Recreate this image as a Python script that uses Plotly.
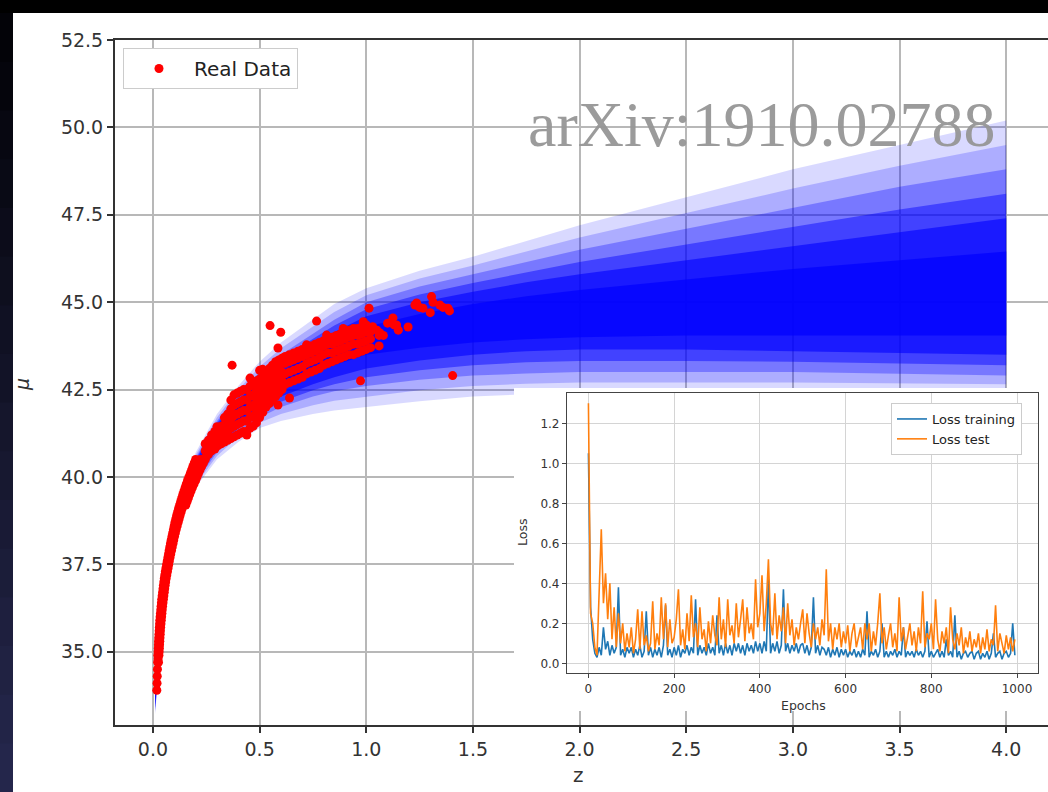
import plotly.graph_objects as go

# ------------------------------------------------------------------ data
# observed supernova points (redshift z, distance modulus mu), read off the picture
z_obs = [
    # steep low-z part (rows of equal mu)
    0.018, 0.019, 0.020, 0.021, 0.022, 0.026, 0.023, 0.028, 0.025, 0.030,
    0.026, 0.032, 0.028, 0.034, 0.030, 0.036, 0.032, 0.039, 0.035, 0.042,
    0.038, 0.045, 0.041, 0.049, 0.045, 0.053, 0.049, 0.057, 0.053, 0.062,
    0.058, 0.068, 0.064, 0.074, 0.070, 0.080, 0.076, 0.087, 0.082, 0.094,
    0.089, 0.101, 0.096, 0.109, 0.103, 0.118, 0.111, 0.127, 0.120, 0.137,
    0.130, 0.148, 0.160, 0.140, 0.158, 0.172, 0.151, 0.168, 0.185,
    0.162, 0.180, 0.200, 0.175, 0.193, 0.213, 0.187, 0.207, 0.228,
    0.200, 0.222, 0.245,
    0.024, 0.024, 0.029, 0.0255, 0.031, 0.027, 0.033, 0.029, 0.035,
    0.031, 0.0375, 0.0335, 0.0405, 0.0365, 0.0435, 0.0395, 0.047,
    0.043, 0.051, 0.047, 0.055, 0.051, 0.0595, 0.0555, 0.065,
    0.061, 0.071, 0.067, 0.077, 0.073, 0.0835, 0.079, 0.0905,
    0.0855, 0.0975, 0.0925, 0.105, 0.0995, 0.1135, 0.107, 0.1225,
    0.1155, 0.132, 0.125, 0.1425, 0.154, 0.135, 0.153, 0.166,
    0.1455, 0.163, 0.1785, 0.1565, 0.174, 0.1925, 0.1685, 0.1865, 0.2065,
    0.181, 0.200, 0.2205, 0.1935, 0.2145, 0.2365,
    # flatter part (columns of equal z)
    0.26, 0.26, 0.26, 0.29, 0.29, 0.29, 0.32, 0.32, 0.32,
    0.35, 0.35, 0.35, 0.35,
    0.38, 0.38, 0.38, 0.38, 0.38,
    0.41, 0.41, 0.41, 0.41, 0.41,
    0.44, 0.44, 0.44, 0.44, 0.44,
    0.47, 0.47, 0.47, 0.47, 0.47,
    0.50, 0.50, 0.50, 0.50, 0.50, 0.50,
    0.53, 0.53, 0.53, 0.53, 0.53,
    0.56, 0.56, 0.56, 0.56, 0.56,
    0.59, 0.59, 0.59, 0.59, 0.59,
    0.62, 0.62, 0.62, 0.62, 0.66, 0.66, 0.66, 0.66,
    0.70, 0.70, 0.70, 0.70, 0.74, 0.74, 0.74, 0.74,
    0.78, 0.78, 0.78, 0.78, 0.82, 0.82, 0.82, 0.82,
    0.86, 0.86, 0.86, 0.86, 0.90, 0.90, 0.90, 0.90,
    0.94, 0.94, 0.94, 0.94, 0.98, 0.98, 0.98, 0.98,
    1.02, 1.02, 1.02, 1.06, 1.06,
    0.245, 0.245, 0.245, 0.275, 0.275, 0.275, 0.305, 0.305, 0.305,
    0.335, 0.335, 0.335, 0.335,
    0.365, 0.365, 0.365, 0.365, 0.365,
    0.395, 0.395, 0.395, 0.395, 0.395,
    0.425, 0.425, 0.425, 0.425, 0.425,
    0.455, 0.455, 0.455, 0.455, 0.455,
    0.485, 0.485, 0.485, 0.485, 0.485,
    0.515, 0.515, 0.515, 0.515, 0.515,
    0.545, 0.545, 0.545, 0.545, 0.545,
    0.575, 0.575, 0.575, 0.575, 0.575,
    0.605, 0.605, 0.605, 0.605, 0.605,
    0.64, 0.64, 0.64, 0.64, 0.68, 0.68, 0.68, 0.68,
    0.72, 0.72, 0.72, 0.72, 0.76, 0.76, 0.76, 0.76,
    0.80, 0.80, 0.80, 0.80, 0.84, 0.84, 0.84, 0.84,
    0.88, 0.88, 0.88, 0.88, 0.92, 0.92, 0.92, 0.92,
    0.96, 0.96, 0.96, 0.96, 1.00, 1.00, 1.00, 1.00,
    # scattered / high-z points
    0.549, 0.599, 0.767, 0.586, 0.371, 1.013, 0.973, 1.405, 0.586, 0.640,
    0.455, 0.514, 0.720, 0.440, 0.300, 0.845, 0.892, 0.814, 0.986,
    1.030, 1.050, 1.064, 1.080, 1.100, 1.125, 1.130, 1.150, 1.142, 1.196,
    1.228, 1.236, 1.250, 1.266, 1.300, 1.306, 1.313, 1.345, 1.360, 1.383,
    1.390,
]
mu_obs = [
    # steep low-z part
    33.9, 34.1, 34.3, 34.5, 34.7, 34.7, 34.9, 34.9, 35.1, 35.1,
    35.3, 35.3, 35.5, 35.5, 35.7, 35.7, 35.9, 35.9, 36.1, 36.1,
    36.3, 36.3, 36.5, 36.5, 36.7, 36.7, 36.9, 36.9, 37.1, 37.1,
    37.3, 37.3, 37.5, 37.5, 37.7, 37.7, 37.9, 37.9, 38.1, 38.1,
    38.3, 38.3, 38.5, 38.5, 38.7, 38.7, 38.9, 38.9, 39.1, 39.1,
    39.3, 39.3, 39.3, 39.5, 39.5, 39.5, 39.7, 39.7, 39.7,
    39.9, 39.9, 39.9, 40.1, 40.1, 40.1, 40.3, 40.3, 40.3,
    40.5, 40.5, 40.5,
    34.8, 35.0, 35.0, 35.2, 35.2, 35.4, 35.4, 35.6, 35.6,
    35.8, 35.8, 36.0, 36.0, 36.2, 36.2, 36.4, 36.4,
    36.6, 36.6, 36.8, 36.8, 37.0, 37.0, 37.2, 37.2,
    37.4, 37.4, 37.6, 37.6, 37.8, 37.8, 38.0, 38.0,
    38.2, 38.2, 38.4, 38.4, 38.6, 38.6, 38.8, 38.8,
    39.0, 39.0, 39.2, 39.2, 39.2, 39.4, 39.4, 39.4,
    39.6, 39.6, 39.6, 39.8, 39.8, 39.8, 40.0, 40.0, 40.0,
    40.2, 40.2, 40.2, 40.4, 40.4, 40.4,
    # flatter part
    40.65, 40.85, 41.05, 40.8, 41.05, 41.3, 40.95, 41.2, 41.45,
    41.05, 41.3, 41.55, 41.8,
    41.15, 41.45, 41.75, 42.05, 42.35,
    41.25, 41.55, 41.85, 42.15, 42.45,
    41.3, 41.6, 41.9, 42.2, 42.5,
    41.45, 41.75, 42.05, 42.35, 42.65,
    41.7, 42.0, 42.3, 42.55, 42.8, 43.05,
    42.0, 42.25, 42.5, 42.75, 43.0,
    42.2, 42.45, 42.7, 42.95, 43.2,
    42.4, 42.65, 42.9, 43.15, 43.35,
    42.65, 42.95, 43.25, 43.45, 42.75, 43.05, 43.35, 43.55,
    42.85, 43.15, 43.45, 43.65, 43.0, 43.3, 43.55, 43.75,
    43.1, 43.4, 43.65, 43.85, 43.25, 43.55, 43.8, 43.95,
    43.35, 43.6, 43.85, 44.05, 43.45, 43.7, 43.95, 44.15,
    43.5, 43.8, 44.05, 44.25, 43.6, 43.85, 44.1, 44.3,
    43.7, 43.95, 44.15, 43.75, 44.05,
    40.55, 40.75, 40.95, 40.75, 40.95, 41.2, 40.9, 41.1, 41.35,
    41.0, 41.25, 41.5, 41.7,
    41.1, 41.4, 41.65, 41.95, 42.2,
    41.2, 41.5, 41.8, 42.1, 42.4,
    41.3, 41.6, 41.9, 42.2, 42.5,
    41.4, 41.7, 42.0, 42.3, 42.6,
    41.55, 41.85, 42.15, 42.45, 42.75,
    41.85, 42.15, 42.4, 42.65, 42.95,
    42.1, 42.35, 42.6, 42.85, 43.1,
    42.3, 42.55, 42.8, 43.05, 43.3,
    42.5, 42.75, 43.0, 43.25, 43.4,
    42.7, 43.0, 43.3, 43.5, 42.8, 43.1, 43.4, 43.6,
    42.95, 43.25, 43.5, 43.7, 43.05, 43.35, 43.6, 43.8,
    43.2, 43.5, 43.75, 43.9, 43.3, 43.55, 43.8, 44.0,
    43.4, 43.65, 43.9, 44.1, 43.5, 43.75, 44.0, 44.2,
    43.55, 43.8, 44.05, 44.25, 43.65, 43.9, 44.15, 44.35,
    # scattered / high-z points
    44.33, 44.14, 44.46, 43.69, 43.2, 44.83, 42.75, 42.9, 42.06, 42.26,
    42.83, 43.08, 43.78, 41.2, 41.44, 43.97, 44.25, 44.06, 44.44,
    44.3, 44.2, 44.12, 44.05, 44.4, 44.55, 44.35, 44.2, 44.35, 44.29,
    44.92, 44.98, 44.85, 44.83, 44.7, 45.16, 45.0, 44.92, 44.85, 44.83,
    44.75,
]
assert len(z_obs) == len(mu_obs)

# predicted fan: nested bands (outer -> core)
z_band = [0.01, 0.02, 0.05, 0.1, 0.15, 0.2, 0.3, 0.4, 0.5, 0.6, 0.75, 0.85,
          1.0, 1.25, 1.5, 1.75, 2.0, 2.5, 3.0, 3.5, 4.0]
band1_up = [33.9, 34.7, 37.1, 38.9, 39.95, 40.7, 41.8, 42.6, 43.3, 43.85, 44.5, 44.95,
            45.4, 45.9, 46.3, 46.75, 47.2, 48.0, 48.8, 49.5, 50.2]
band1_lo = [33.2, 33.9, 36.3, 38.1, 39.1, 39.7, 40.5, 41.0, 41.4, 41.6, 41.8, 41.9,
            42.0, 42.17, 42.3, 42.37, 42.4, 42.4, 42.4, 42.4, 42.4]
band2_up = [33.85, 34.65, 37.05, 38.85, 39.9, 40.62, 41.7, 42.5, 43.15, 43.68, 44.3, 44.72,
            45.2, 45.68, 46.05, 46.45, 46.85, 47.55, 48.25, 48.9, 49.5]
band2_lo = [33.25, 33.95, 36.35, 38.15, 39.15, 39.78, 40.6, 41.15, 41.55, 41.8, 42.05, 42.18,
            42.3, 42.48, 42.6, 42.67, 42.7, 42.7, 42.7, 42.68, 42.65]
band3_up = [33.8, 34.6, 37.0, 38.8, 39.85, 40.55, 41.6, 42.4, 43.0, 43.5, 44.1, 44.5,
            45.0, 45.45, 45.8, 46.15, 46.5, 47.1, 47.7, 48.3, 48.8]
band3_lo = [33.3, 34.0, 36.4, 38.2, 39.2, 39.85, 40.7, 41.3, 41.7, 42.0, 42.3, 42.45,
            42.6, 42.78, 42.9, 42.96, 43.0, 43.0, 43.0, 42.95, 42.9]
band4_up = [33.78, 34.55, 36.95, 38.75, 39.8, 40.5, 41.55, 42.3, 42.9, 43.38, 43.95, 44.33,
            44.8, 45.22, 45.55, 45.86, 46.15, 46.65, 47.15, 47.65, 48.1]
band4_lo = [33.35, 34.05, 36.45, 38.25, 39.25, 39.9, 40.78, 41.38, 41.82, 42.15, 42.48, 42.65,
            42.85, 43.05, 43.2, 43.28, 43.32, 43.32, 43.3, 43.25, 43.2]
band5_up = [33.75, 34.5, 36.9, 38.7, 39.75, 40.45, 41.5, 42.2, 42.8, 43.25, 43.8, 44.15,
            44.6, 45.0, 45.3, 45.57, 45.8, 46.2, 46.6, 47.0, 47.4]
band5_lo = [33.4, 34.1, 36.5, 38.3, 39.3, 39.95, 40.85, 41.45, 41.95, 42.3, 42.65, 42.85,
            43.1, 43.33, 43.5, 43.6, 43.65, 43.65, 43.6, 43.55, 43.5]
band6_up = [33.7, 34.4, 36.8, 38.6, 39.65, 40.35, 41.35, 42.05, 42.6, 43.0, 43.55, 43.9,
            44.3, 44.66, 44.95, 45.17, 45.35, 45.65, 45.95, 46.2, 46.45]
band6_lo = [33.5, 34.2, 36.6, 38.4, 39.4, 40.05, 41.0, 41.6, 42.1, 42.5, 42.95, 43.2,
            43.5, 43.7, 43.85, 43.94, 44.0, 44.05, 44.05, 44.05, 44.05]

# inset: loss curves, sampled every 5 epochs
epochs = list(range(0, 1000, 5))
loss_training = [
    1.05, 0.28, 0.12, 0.05, 0.03, 0.08, 0.04, 0.18, 0.07, 0.11,
    0.04, 0.09, 0.05, 0.08, 0.38, 0.04, 0.07, 0.03, 0.08, 0.05,
    0.08, 0.03, 0.07, 0.04, 0.09, 0.03, 0.06, 0.26, 0.04, 0.08,
    0.03, 0.07, 0.04, 0.08, 0.03, 0.09, 0.29, 0.04, 0.07, 0.03,
    0.08, 0.04, 0.09, 0.03, 0.07, 0.05, 0.09, 0.04, 0.08, 0.05,
    0.32, 0.04, 0.09, 0.05, 0.08, 0.04, 0.10, 0.05, 0.08, 0.04,
    0.24, 0.05, 0.09, 0.04, 0.10, 0.05, 0.09, 0.04, 0.10, 0.06,
    0.10, 0.05, 0.09, 0.04, 0.10, 0.06, 0.09, 0.05, 0.11, 0.06,
    0.10, 0.05, 0.11, 0.06, 0.42, 0.05, 0.10, 0.06, 0.11, 0.05,
    0.09, 0.37, 0.06, 0.10, 0.05, 0.09, 0.06, 0.10, 0.05, 0.09,
    0.10, 0.05, 0.09, 0.04, 0.08, 0.33, 0.05, 0.09, 0.04, 0.08,
    0.07, 0.04, 0.08, 0.03, 0.07, 0.04, 0.08, 0.03, 0.07, 0.04,
    0.07, 0.03, 0.06, 0.04, 0.07, 0.03, 0.06, 0.03, 0.07, 0.04,
    0.26, 0.03, 0.06, 0.04, 0.07, 0.03, 0.06, 0.20, 0.03, 0.06,
    0.03, 0.06, 0.04, 0.07, 0.03, 0.06, 0.04, 0.18, 0.03, 0.06,
    0.04, 0.06, 0.03, 0.07, 0.04, 0.06, 0.03, 0.06, 0.21, 0.03,
    0.06, 0.03, 0.05, 0.07, 0.03, 0.06, 0.03, 0.12, 0.04, 0.06,
    0.03, 0.24, 0.03, 0.06, 0.02, 0.05, 0.06, 0.03, 0.05, 0.06,
    0.02, 0.05, 0.06, 0.02, 0.05, 0.03, 0.06, 0.02, 0.05, 0.15,
    0.03, 0.05, 0.06, 0.02, 0.05, 0.06, 0.03, 0.05, 0.20, 0.04,
]
loss_test = [
    1.30, 0.25, 0.20, 0.08, 0.04, 0.35, 0.67, 0.30, 0.45, 0.22,
    0.40, 0.12, 0.28, 0.08, 0.25, 0.10, 0.20, 0.06, 0.15, 0.08,
    0.18, 0.05, 0.12, 0.27, 0.07, 0.26, 0.09, 0.14, 0.06, 0.10,
    0.31, 0.07, 0.15, 0.09, 0.33, 0.12, 0.30, 0.08, 0.22, 0.10,
    0.13, 0.22, 0.37, 0.09, 0.17, 0.07, 0.25, 0.11, 0.34, 0.13,
    0.20, 0.08, 0.28, 0.12, 0.17, 0.06, 0.21, 0.10, 0.24, 0.14,
    0.09, 0.33, 0.12, 0.22, 0.08, 0.32, 0.14, 0.19, 0.10, 0.30,
    0.13, 0.22, 0.32, 0.11, 0.28, 0.15, 0.20, 0.12, 0.42, 0.18,
    0.25, 0.44, 0.16, 0.30, 0.52, 0.20, 0.14, 0.35, 0.12, 0.24,
    0.16, 0.28, 0.10, 0.30, 0.14, 0.22, 0.09, 0.18, 0.12, 0.20,
    0.27, 0.10, 0.25, 0.15, 0.08, 0.20, 0.12, 0.18, 0.09, 0.22,
    0.14, 0.47, 0.11, 0.20, 0.07, 0.18, 0.12, 0.20, 0.08, 0.16,
    0.10, 0.19, 0.06, 0.15, 0.20, 0.08, 0.13, 0.18, 0.07, 0.20,
    0.12, 0.20, 0.06, 0.16, 0.09, 0.20, 0.35, 0.10, 0.18, 0.07,
    0.14, 0.20, 0.08, 0.15, 0.06, 0.33, 0.11, 0.18, 0.07, 0.14,
    0.20, 0.09, 0.16, 0.06, 0.18, 0.10, 0.36, 0.08, 0.15, 0.12,
    0.20, 0.07, 0.32, 0.12, 0.06, 0.16, 0.10, 0.18, 0.05, 0.28,
    0.12, 0.07, 0.15, 0.09, 0.18, 0.05, 0.13, 0.08, 0.16, 0.06,
    0.12, 0.08, 0.15, 0.05, 0.13, 0.07, 0.17, 0.06, 0.12, 0.09,
    0.29, 0.06, 0.15, 0.10, 0.05, 0.14, 0.07, 0.13, 0.06, 0.12,
]

main_xticks = [0.0, 0.5, 1.0, 1.5, 2.0, 2.5, 3.0, 3.5, 4.0]
main_yticks = [35.0, 37.5, 40.0, 42.5, 45.0, 47.5, 50.0, 52.5]
inset_xticks = [0, 200, 400, 600, 800, 1000]
inset_yticks = [0.0, 0.2, 0.4, 0.6, 0.8, 1.0, 1.2]

# ------------------------------------------------------------------ layout geometry
W, H = 1048, 792
ML, MR, MT, MB = 115, 0, 40, 67
PW, PH = W - ML - MR, H - MT - MB


def px2x(px):
    return (px - ML) / PW


def py2y(py):
    return (H - MB - py) / PH


fig = go.Figure()

# fan bands (outer, faint -> core, saturated)
band_levels = [(band1_up, band1_lo, 0.15), (band2_up, band2_lo, 0.20),
               (band3_up, band3_lo, 0.30), (band4_up, band4_lo, 0.45),
               (band5_up, band5_lo, 0.60), (band6_up, band6_lo, 0.70)]
for up, lo, a in band_levels:
    fig.add_trace(go.Scatter(
        x=z_band + z_band[::-1], y=up + lo[::-1],
        fill="toself", fillcolor=f"rgba(0,0,255,{a})",
        mode="lines", line=dict(width=0), showlegend=False, hoverinfo="skip",
        xaxis="x", yaxis="y"))

fig.add_trace(go.Scatter(
    x=z_obs, y=mu_obs, mode="markers", name="Real Data",
    marker=dict(color="#ff0000", size=9, line=dict(width=0)),
    xaxis="x", yaxis="y", legend="legend"))

# white cover behind the inset (own subplot so it hides the main grid)
fig.add_trace(go.Scatter(x=[], y=[], xaxis="x2", yaxis="y2",
                         showlegend=False, hoverinfo="skip"))

# inset curves
fig.add_trace(go.Scatter(x=epochs, y=loss_training, mode="lines",
                         name="Loss training", line=dict(color="#1f77b4", width=1.6),
                         xaxis="x3", yaxis="y3", legend="legend2"))
fig.add_trace(go.Scatter(x=epochs, y=loss_test, mode="lines",
                         name="Loss test", line=dict(color="#ff7f0e", width=1.6),
                         xaxis="x3", yaxis="y3", legend="legend2"))

font_main = "DejaVu Sans, Arial, sans-serif"
tick_col = "#333333"

fig.update_layout(
    width=W, height=H,
    margin=dict(l=ML, r=MR, t=MT, b=MB, pad=0),
    paper_bgcolor="white", plot_bgcolor="white",
    font=dict(family=font_main, color=tick_col),
    xaxis=dict(domain=[0, 1], anchor="y", range=[-0.178, 4.196],
               tickvals=main_xticks, ticktext=[f"{v:.1f}" for v in main_xticks],
               showgrid=True, gridcolor="#b8b8b8", gridwidth=1.5, zeroline=False,
               showline=True, linecolor="#333333", linewidth=2, mirror=True,
               ticks="outside", ticklen=6, tickwidth=1.5, tickcolor="#333333",
               tickfont=dict(size=19, color=tick_col)),
    yaxis=dict(domain=[0, 1], anchor="x", range=[32.906, 52.5],
               tickvals=main_yticks, ticktext=[f"{v:.1f}" for v in main_yticks],
               showgrid=True, gridcolor="#b8b8b8", gridwidth=1.5, zeroline=False,
               showline=True, linecolor="#333333", linewidth=2, mirror=False,
               ticks="outside", ticklen=6, tickwidth=1.5, tickcolor="#333333",
               tickfont=dict(size=19, color=tick_col)),
    xaxis2=dict(domain=[px2x(514), 1.0], anchor="y2", range=[0, 1],
                visible=False, showgrid=False, zeroline=False),
    yaxis2=dict(domain=[py2y(711), py2y(388)], anchor="x2", range=[0, 1],
                visible=False, showgrid=False, zeroline=False),
    xaxis3=dict(domain=[px2x(567), px2x(1038)], anchor="y3", range=[-50, 1049],
                tickvals=inset_xticks, showgrid=True, gridcolor="#d4d4d4",
                gridwidth=1, zeroline=False, showline=True, linecolor="#444444",
                linewidth=1.2, mirror=True, ticks="outside", ticklen=4,
                tickcolor="#444444", tickfont=dict(size=12, color=tick_col)),
    yaxis3=dict(domain=[py2y(673.3), py2y(392.7)], anchor="x3", range=[-0.05, 1.353],
                tickvals=inset_yticks, ticktext=[f"{v:.1f}" for v in inset_yticks],
                showgrid=True, gridcolor="#d4d4d4", gridwidth=1, zeroline=False,
                showline=True, linecolor="#444444", linewidth=1.2, mirror=True,
                ticks="outside", ticklen=4, tickcolor="#444444",
                tickfont=dict(size=12, color=tick_col)),
    legend=dict(x=px2x(123), y=py2y(48), xanchor="left", yanchor="top",
                bgcolor="white", bordercolor="#cccccc", borderwidth=1,
                itemwidth=60, font=dict(size=20, color="#222222")),
    legend2=dict(x=px2x(891), y=py2y(403), xanchor="left", yanchor="top",
                 bgcolor="white", bordercolor="#cccccc", borderwidth=1,
                 tracegroupgap=0, font=dict(size=13, color="#222222")),
    showlegend=True,
)

# dark slide frame around the white card
shapes = [dict(type="rect", xref="paper", yref="paper",
               x0=px2x(0), x1=px2x(W), y0=py2y(13), y1=py2y(0),
               fillcolor="#000000", line=dict(width=0), layer="below")]
nseg = 16
for i in range(nseg):
    t = (i + 0.5) / nseg
    c = (int(2 + 36 * t), int(2 + 38 * t), int(6 + 72 * t))
    y_top = 13 + (H - 13) * i / nseg
    y_bot = 13 + (H - 13) * (i + 1) / nseg + 1
    shapes.append(dict(type="rect", xref="paper", yref="paper",
                       x0=px2x(0), x1=px2x(13), y0=py2y(y_bot), y1=py2y(y_top),
                       fillcolor=f"rgb{c}", line=dict(width=0), layer="below"))
fig.update_layout(shapes=shapes)


def ann(text, px, py, size, angle=0, family=None, color=tick_col):
    f = dict(size=size, color=color)
    if family:
        f["family"] = family
    return dict(text=text, x=px2x(px), y=py2y(py), xref="paper", yref="paper",
                xanchor="center", yanchor="middle", showarrow=False,
                textangle=angle, font=f)


annotations = [
    ann("arXiv:1910.02788", 762, 124, 64, family="Liberation Serif, serif",
        color="rgba(150,150,150,0.95)"),
    ann("z", 578, 775, 20),
    ann("<i>μ</i>", 22, 385, 19, angle=-90),
    ann("Loss", 522, 533, 12.5, angle=-90),
    ann("Epochs", 803, 705, 12.5),
]
fig.update_layout(annotations=annotations)

fig.write_html("out.html")
